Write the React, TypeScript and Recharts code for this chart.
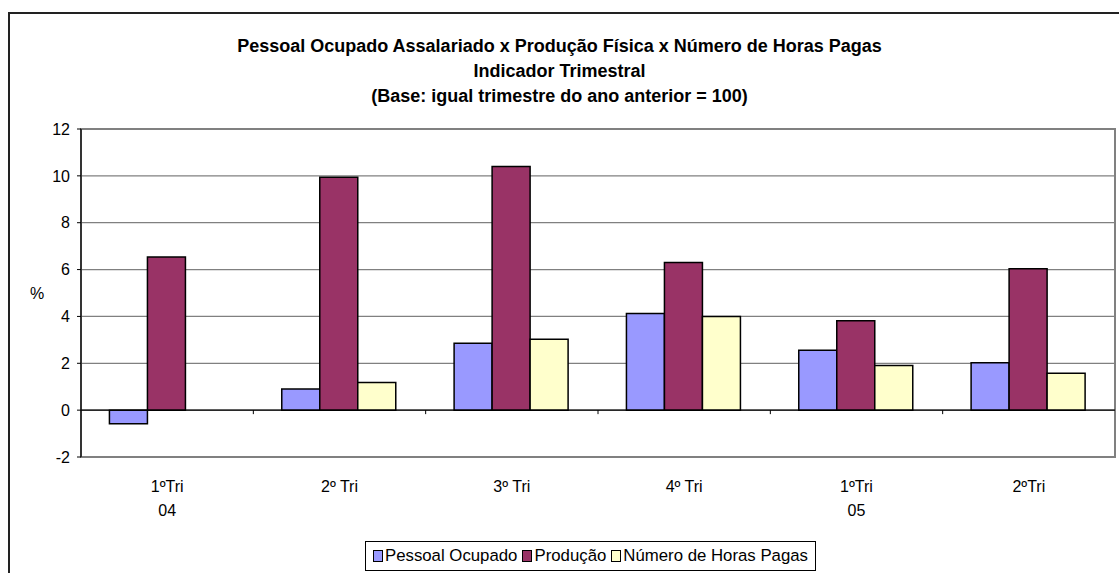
import {
  BarChart,
  Bar,
  XAxis,
  YAxis,
  CartesianGrid,
  ReferenceLine,
  ReferenceArea,
} from "recharts";

const quarters = ["1ºTri\n04", "2º Tri", "3º Tri", "4º Tri", "1ºTri\n05", "2ºTri"];
const pessoalOcupado = [-0.58, 0.9, 2.85, 4.13, 2.56, 2.02];
const producao = [6.54, 9.94, 10.4, 6.3, 3.82, 6.04];
const horasPagas = [null, 1.18, 3.03, 4.0, 1.91, 1.58];
const yTicks = [-2, 0, 2, 4, 6, 8, 10, 12];

const titleLines = [
  "Pessoal Ocupado Assalariado x Produção Física x Número de Horas Pagas",
  "Indicador Trimestral",
  "(Base: igual trimestre do ano anterior = 100)",
];

const series = [
  { key: "pessoal", name: "Pessoal Ocupado", color: "#9999FF" },
  { key: "producao", name: "Produção", color: "#993366" },
  { key: "horas", name: "Número de Horas Pagas", color: "#FFFFCC" },
];

const data = quarters.map((q, i) => ({
  quarter: q,
  pessoal: pessoalOcupado[i],
  producao: producao[i],
  horas: horasPagas[i],
}));

const FONT = "'Liberation Sans', Arial, sans-serif";

function QuarterTick({ x, y, payload }: any) {
  const lines = String(payload.value).split("\n");
  return (
    <text x={x} y={y} textAnchor="middle" fontFamily={FONT} fontSize={16} fill="#000">
      {lines.map((l, i) => (
        <tspan key={i} x={x} dy={i === 0 ? 27 : 24}>
          {l}
        </tspan>
      ))}
    </text>
  );
}

export default function App() {
  return (
    <div
      style={{
        position: "absolute",
        left: 0,
        top: 0,
        width: 1119,
        height: 573,
        overflow: "hidden",
        background: "#fff",
        fontFamily: FONT,
      }}
    >
      {/* outer chart frame, runs off the right and bottom edges */}
      <div
        style={{
          position: "absolute",
          left: 8,
          top: 12,
          width: 1300,
          height: 800,
          border: "2px solid #222",
        }}
      />
      <div
        style={{
          position: "absolute",
          left: 0,
          top: 34,
          width: 1119,
          textAlign: "center",
          fontWeight: "bold",
          fontSize: 18,
          lineHeight: "25px",
        }}
      >
        {titleLines.map((t) => (
          <div key={t}>{t}</div>
        ))}
      </div>
      <div style={{ position: "absolute", left: 0, top: 0 }}>
        <BarChart
          width={1119}
          height={573}
          data={data}
          margin={{ top: 129, right: 4, bottom: 56, left: 26 }}
          barCategoryGap="16.5%"
          barGap={0}
        >
          <CartesianGrid horizontal vertical={false} stroke="#808080" strokeWidth={1.2} />
          <ReferenceArea y1={-2} y2={12} fill="none" stroke="#808080" strokeWidth={2} />
          <XAxis
            dataKey="quarter"
            axisLine={false}
            tickLine={false}
            interval={0}
            height={60}
            tick={<QuarterTick />}
          />
          <YAxis
            domain={[-2, 12]}
            ticks={yTicks}
            interval={0}
            width={55}
            axisLine={{ stroke: "#000", strokeWidth: 1.2 }}
            tickLine={{ stroke: "#000" }}
            tickSize={4}
            tickMargin={7}
            tick={{ fontFamily: FONT, fontSize: 16, fill: "#000" }}
            label={{
              value: "%",
              position: "insideLeft",
              offset: 4,
              style: { fontFamily: FONT, fontSize: 16, fill: "#000", textAnchor: "start" },
            }}
          />
          {series.map((s) => (
            <Bar
              key={s.key}
              dataKey={s.key}
              name={s.name}
              fill={s.color}
              stroke="#000"
              strokeWidth={1.5}
              isAnimationActive={false}
            />
          ))}
          <ReferenceLine y={0} stroke="#000" strokeWidth={1.2} />
          {quarters.slice(1).map((q) => (
            <ReferenceLine
              key={q}
              segment={[
                { x: q, y: 0 },
                { x: q, y: -0.17 },
              ]}
              position="start"
              stroke="#000"
            />
          ))}
        </BarChart>
      </div>
      {/* legend */}
      <div
        style={{
          position: "absolute",
          left: 365,
          top: 541,
          width: 451,
          height: 30,
          boxSizing: "border-box",
          border: "1px solid #000",
          display: "flex",
          alignItems: "center",
          justifyContent: "center",
          fontSize: 16.8,
          whiteSpace: "nowrap",
        }}
      >
        {series.map((s, i) => (
          <div
            key={s.key}
            style={{ display: "flex", alignItems: "center", marginRight: i < series.length - 1 ? 5 : 0 }}
          >
            <span
              style={{
                display: "inline-block",
                width: 8,
                height: 10,
                background: s.color,
                border: "1.5px solid #000",
                marginRight: 2,
              }}
            />
            <span>{s.name}</span>
          </div>
        ))}
      </div>
    </div>
  );
}
